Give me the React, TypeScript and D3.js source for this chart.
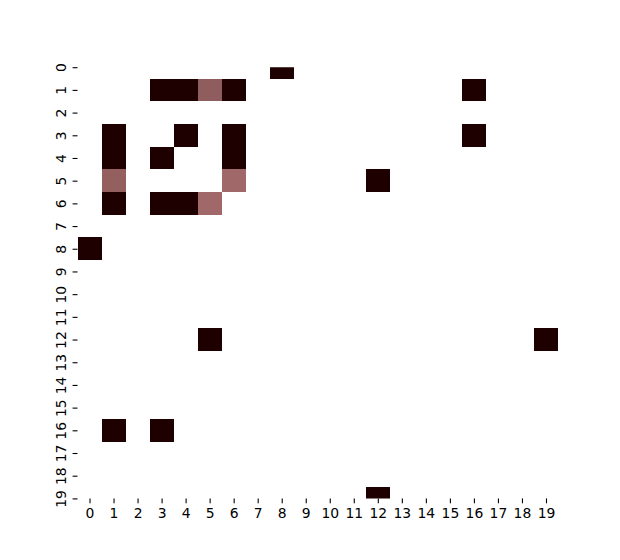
import { useEffect, useRef } from "react";
import * as d3 from "d3";

// grid labels
const rowLabels = d3.range(20).map(String);
const colLabels = d3.range(20).map(String);

// non-empty cells (row, col, value); everything else is blank (masked)
const cellRows = [0, 1, 1, 1, 1, 1, 3, 3, 3, 3, 4, 4, 4, 5, 5, 5, 6, 6, 6, 6, 8, 12, 12, 16, 16, 19];
const cellCols = [8, 3, 4, 5, 6, 16, 1, 4, 6, 16, 1, 3, 6, 1, 6, 12, 1, 3, 4, 5, 0, 5, 19, 1, 3, 12];
const cellValues = [0, 0, 0, 0.2, 0, 0, 0, 0, 0, 0, 0, 0, 0, 0.21, 0.25, 0, 0, 0, 0, 0.25, 0, 0, 0, 0, 0, 0];

// matplotlib "pink" colormap, approximated
function pink(t: number) {
  const hr = Math.min(1, t / 0.365);
  const hg = Math.max(0, Math.min(1, (t - 0.365) / 0.381));
  const hb = Math.max(0, Math.min(1, (t - 0.746) / 0.254));
  const r = Math.max(0.1178, Math.sqrt((2 * t + hr) / 3));
  const g = Math.sqrt((2 * t + hg) / 3);
  const b = Math.sqrt((2 * t + hb) / 3);
  return d3.rgb(r * 255, g * 255, b * 255).formatHex();
}

export default function App() {
  const ref = useRef<SVGSVGElement>(null);
  const width = 620;
  const height = 560;

  useEffect(() => {
    if (!ref.current) return;
    const svg = d3.select(ref.current);
    svg.selectAll("*").remove();

    const left = 77.5, right = 558, top = 67.2, bottom = 498.4;

    // x covers whole columns, y is cut at the middle of first/last row
    const x = d3.scaleLinear().domain([0, colLabels.length]).range([left, right]);
    const y = d3.scaleLinear().domain([0.5, rowLabels.length - 0.5]).range([top, bottom]);
    const color = d3.scaleSequential(pink).domain([0, 1]);

    svg.append("defs").append("clipPath").attr("id", "plot-clip")
      .append("rect")
      .attr("x", left).attr("y", top)
      .attr("width", right - left).attr("height", bottom - top);

    const cells = cellRows.map((r, i) => ({ r, c: cellCols[i], v: cellValues[i] }));

    svg.append("g")
      .attr("clip-path", "url(#plot-clip)")
      .selectAll("rect")
      .data(cells)
      .join("rect")
      .attr("x", (d) => x(d.c))
      .attr("y", (d) => y(d.r))
      .attr("width", (d) => x(d.c + 1) - x(d.c))
      .attr("height", (d) => y(d.r + 1) - y(d.r))
      .attr("fill", (d) => color(d.v))
      .attr("shape-rendering", "crispEdges");

    // x axis
    const xAxis = svg.append("g")
      .attr("transform", `translate(0,${bottom})`)
      .call(
        d3.axisBottom(x)
          .tickValues(colLabels.map((_, i) => i + 0.5))
          .tickFormat((_, i) => colLabels[i])
          .tickSize(4.9)
          .tickPadding(4.9)
      );
    xAxis.select(".domain").remove();
    xAxis.selectAll("line").attr("stroke-width", 1.1);
    xAxis.selectAll("text")
      .attr("font-family", "DejaVu Sans")
      .attr("font-size", 13.9)
      .attr("fill", "#000");

    // y axis, labels rotated
    const yAxis = svg.append("g")
      .attr("transform", `translate(${left},0)`)
      .call(
        d3.axisLeft(y)
          .tickValues(rowLabels.map((_, i) => i + 0.5))
          .tickFormat((_, i) => rowLabels[i])
          .tickSize(4.9)
      );
    yAxis.select(".domain").remove();
    yAxis.selectAll("line").attr("stroke-width", 1.1);
    yAxis.selectAll("text")
      .attr("x", null)
      .attr("dy", null)
      .attr("transform", "translate(-11.5,0) rotate(-90)")
      .attr("text-anchor", "middle")
      .attr("font-family", "DejaVu Sans")
      .attr("font-size", 13.9)
      .attr("fill", "#000");
  }, []);

  return (
    <svg
      ref={ref}
      width={width}
      height={height}
      style={{ position: "absolute", left: 0, top: 0, background: "#fff" }}
    ></svg>
  );
}
